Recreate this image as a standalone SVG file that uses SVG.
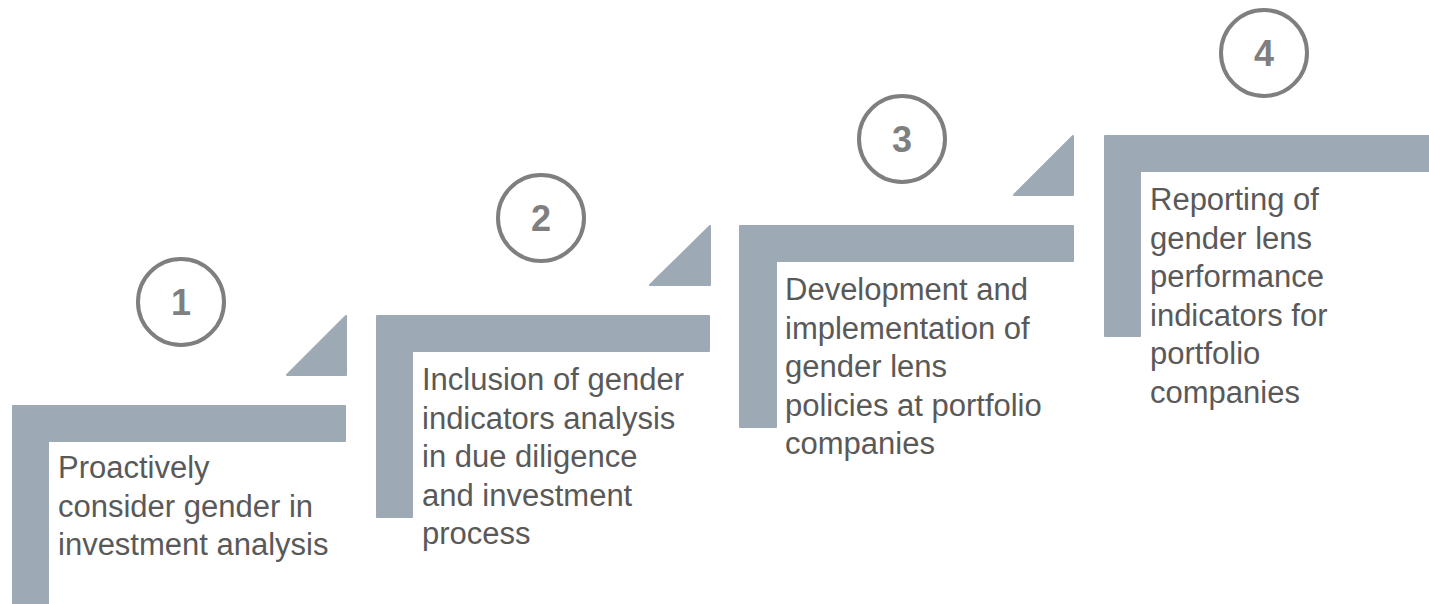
<svg xmlns="http://www.w3.org/2000/svg" width="1429" height="604" viewBox="0 0 1429 604">
  <style>
    .bar { fill: #9DA9B5; stroke: #9DA9B5; stroke-width: 2; stroke-linejoin: round; }
    .ring { fill: none; stroke: #7F7F7F; stroke-width: 4; }
    .num { font-family: "Liberation Sans", Arial, sans-serif; font-weight: bold; font-size: 36px; fill: #7F7F7F; text-anchor: middle; }
    .label { font-family: "Liberation Sans", Arial, sans-serif; font-size: 31px; fill: #595959; }
  </style>
  <rect width="1429" height="604" fill="#FFFFFF"/>
  <g id="step1">
    <path class="bar" d="M13,406 H345 V441 H48 V605 H13 Z"/>
    <path class="bar" d="M346,316 V375 H287 Z"/>
    <circle class="ring" cx="181" cy="302" r="43"/>
    <text class="num" x="181" y="315">1</text>
    <text class="label" x="58" y="478">
      <tspan x="58" y="478">Proactively</tspan>
      <tspan x="58" y="516.5">consider gender in</tspan>
      <tspan x="58" y="555">investment analysis</tspan>
    </text>
  </g>
  <g id="step2">
    <path class="bar" d="M377,316 H709 V351 H412 V517 H377 Z"/>
    <path class="bar" d="M710,226 V285 H650 Z"/>
    <circle class="ring" cx="541" cy="218" r="43"/>
    <text class="num" x="541" y="231">2</text>
    <text class="label">
      <tspan x="422" y="390">Inclusion of gender</tspan>
      <tspan x="422" y="428.5">indicators analysis</tspan>
      <tspan x="422" y="467">in due diligence</tspan>
      <tspan x="422" y="505.5">and investment</tspan>
      <tspan x="422" y="544">process</tspan>
    </text>
  </g>
  <g id="step3">
    <path class="bar" d="M740,226 H1073 V261 H776 V427 H740 Z"/>
    <path class="bar" d="M1073,136 V195 H1014 Z"/>
    <circle class="ring" cx="902" cy="139" r="43"/>
    <text class="num" x="902" y="152">3</text>
    <text class="label">
      <tspan x="785" y="300">Development and</tspan>
      <tspan x="785" y="338.5">implementation of</tspan>
      <tspan x="785" y="377">gender lens</tspan>
      <tspan x="785" y="415.5">policies at portfolio</tspan>
      <tspan x="785" y="454">companies</tspan>
    </text>
  </g>
  <g id="step4">
    <path class="bar" d="M1105,136 H1430 V171 H1140 V336 H1105 Z"/>
    <circle class="ring" cx="1264" cy="53" r="43"/>
    <text class="num" x="1264" y="66">4</text>
    <text class="label">
      <tspan x="1150" y="210">Reporting of</tspan>
      <tspan x="1150" y="248.5">gender lens</tspan>
      <tspan x="1150" y="287">performance</tspan>
      <tspan x="1150" y="325.5">indicators for</tspan>
      <tspan x="1150" y="364">portfolio</tspan>
      <tspan x="1150" y="402.5">companies</tspan>
    </text>
  </g>
  <g id="connectors"/>
</svg>
